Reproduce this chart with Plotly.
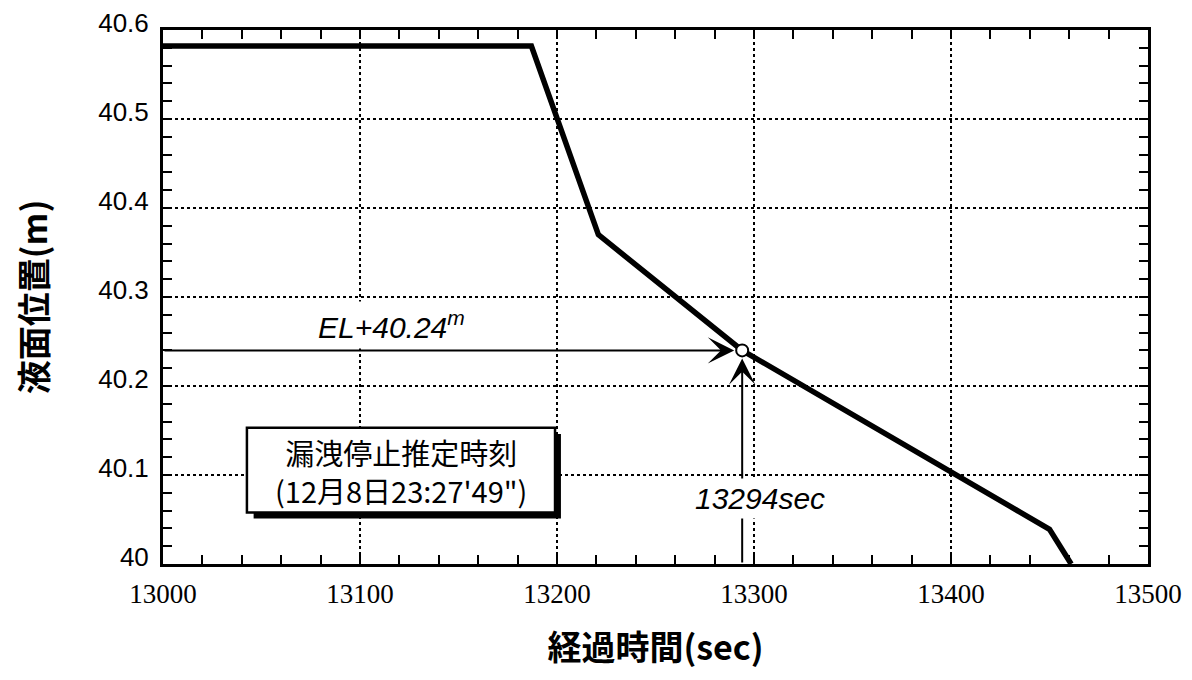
import plotly.graph_objects as go

# ---- data ----
time_s = [13000, 13187, 13221, 13294, 13450, 13461]
level_m = [40.582, 40.582, 40.37, 40.24, 40.039, 40.0]
stop_time = 13294
stop_level = 40.24
x_ticks = [13000, 13100, 13200, 13300, 13400, 13500]
x_tick_labels = ["13000", "13100", "13200", "13300", "13400", "13500"]
y_ticks = [40.0, 40.1, 40.2, 40.3, 40.4, 40.5, 40.6]
y_tick_labels = ["40", "40.1", "40.2", "40.3", "40.4", "40.5", "40.6"]
x_title = "経過時間(sec)"
y_title = "液面位置(m)"
box_text = "漏洩停止推定時刻<br>(12月8日23:27'49\")"
level_text = "<i>EL+40.24<sup>m</sup></i>"
time_text = "<i>13294sec</i>"

SANS = "Liberation Sans, Noto Sans CJK JP, sans-serif"
CJK = "Noto Sans CJK JP, Liberation Sans, sans-serif"

fig = go.Figure()
fig.add_trace(go.Scatter(x=time_s, y=level_m, mode="lines",
                         line=dict(color="black", width=5.5), hoverinfo="skip",
                         showlegend=False))
fig.add_trace(go.Scatter(x=[stop_time], y=[stop_level], mode="markers",
                         marker=dict(symbol="circle", size=12, color="white",
                                     line=dict(color="black", width=2)),
                         showlegend=False))

axis_common = dict(showline=True, linecolor="black", linewidth=3, mirror="allticks",
                   ticks="inside", ticklen=9, tickwidth=2, tickcolor="black",
                   showgrid=True, gridcolor="black", griddash="dot", gridwidth=2,
                   zeroline=False, automargin=False)

fig.update_xaxes(range=[13000, 13500], tickvals=x_ticks, ticktext=x_tick_labels,
                 tickfont=dict(family="Liberation Serif, serif", size=27, color="black"),
                 ticklabelstandoff=4,
                 minor=dict(dtick=20, tick0=13000, ticks="inside", ticklen=9, tickwidth=2,
                            tickcolor="black", showgrid=False),
                 title=dict(text=x_title, font=dict(family=CJK, size=34, color="black", weight="bold"),
                            standoff=28),
                 **axis_common)
fig.update_yaxes(range=[40, 40.6], tickvals=y_ticks, ticktext=y_tick_labels,
                 tickfont=dict(family="Liberation Sans, sans-serif", size=26, color="black"),
                 ticklabelstandoff=6, ticklabelshift=-7,
                 minor=dict(dtick=0.02, tick0=40, ticks="inside", ticklen=9, tickwidth=2,
                            tickcolor="black", showgrid=False),
                 title=dict(text=y_title, font=dict(family=CJK, size=34, color="black", weight="bold"),
                            standoff=48),
                 **axis_common)

# box with drop shadow
fig.add_shape(type="rect", xref="x", yref="y", x0=13046, x1=13202, y0=40.051, y1=40.146,
              fillcolor="black", line=dict(width=0), layer="above")
fig.add_shape(type="rect", xref="x", yref="y", x0=13042.6, x1=13199, y0=40.058, y1=40.153,
              fillcolor="white", line=dict(color="black", width=2.5), layer="above")

# arrows pointing at the stop point
fig.add_annotation(x=stop_time, y=stop_level, ax=13000, ay=stop_level, xref="x", yref="y",
                   axref="x", ayref="y", text="", showarrow=True, arrowhead=3,
                   arrowsize=2.2, arrowwidth=2, arrowcolor="black", standoff=8)
fig.add_annotation(x=stop_time, y=stop_level, ax=stop_time, ay=40.0, xref="x", yref="y",
                   axref="x", ayref="y", text="", showarrow=True, arrowhead=3,
                   arrowsize=2.2, arrowwidth=2, arrowcolor="black", standoff=8)

fig.add_annotation(x=13121, y=40.105, xref="x", yref="y", text=box_text, showarrow=False,
                   font=dict(family=CJK, size=29, color="black"), xanchor="center", yanchor="middle")

fig.add_annotation(x=13116, y=40.268, xref="x", yref="y", text=level_text, showarrow=False,
                   font=dict(family=SANS, size=30, color="black"), bgcolor="white",
                   xanchor="center", yanchor="middle", borderpad=4)
fig.add_annotation(x=13303, y=40.074, xref="x", yref="y", text=time_text, showarrow=False,
                   font=dict(family=SANS, size=30, color="black"), bgcolor="white",
                   xanchor="center", yanchor="middle", borderpad=3)

# page body has an 8px margin: size the figure so the plot area lands where the reference has it
fig.update_layout(width=1176, height=664, paper_bgcolor="white", plot_bgcolor="white",
                  margin=dict(l=155, r=36, t=22, b=108), showlegend=False)

fig.write_html("out.html")
